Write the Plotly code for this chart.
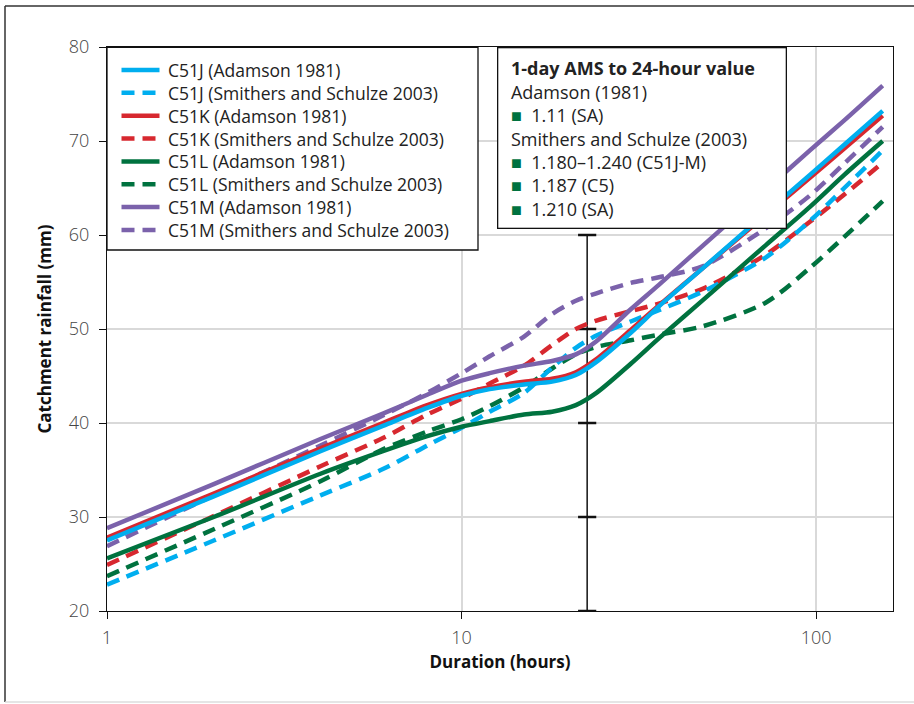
import plotly.graph_objects as go

# Durations (hours) at which each depth-duration curve is sampled
durations = [1, 2, 4, 6, 8, 10, 12, 15, 18, 21, 24, 30, 36, 48, 72, 96, 120, 154]

# Catchment rainfall depths (mm) - Adamson (1981)
c51j_adamson = [27.5, 32.2, 37.0, 39.7, 41.6, 42.9, 43.6, 44.1, 44.4, 45.1, 46.5, 49.6, 52.4, 56.5, 62.3, 66.4, 69.6, 73.2]
c51k_adamson = [27.8, 32.5, 37.3, 40.0, 41.9, 43.1, 43.8, 44.4, 44.7, 45.4, 46.8, 49.9, 52.5, 56.5, 62.1, 66.1, 69.2, 72.7]
c51l_adamson = [25.6, 30.0, 34.6, 37.0, 38.6, 39.6, 40.2, 40.9, 41.2, 41.9, 43.2, 46.3, 49.0, 53.1, 58.9, 63.0, 66.4, 70.0]
c51m_adamson = [28.8, 33.5, 38.3, 41.0, 43.0, 44.5, 45.3, 46.1, 46.6, 47.3, 48.7, 52.1, 54.7, 58.9, 64.8, 69.0, 72.2, 75.9]

# Catchment rainfall depths (mm) - Smithers and Schulze (2003)
c51j_smithers = [22.8, 27.5, 32.3, 35.1, 37.6, 39.5, 41.2, 43.2, 45.9, 48.0, 49.3, 50.8, 52.0, 54.0, 57.6, 61.5, 65.0, 69.0]
c51k_smithers = [24.9, 30.1, 35.4, 38.4, 40.9, 42.6, 44.2, 46.1, 48.3, 50.0, 50.9, 51.9, 52.7, 54.3, 57.9, 61.4, 64.3, 67.7]
c51l_smithers = [23.7, 28.7, 33.8, 37.2, 39.1, 40.4, 41.8, 43.8, 45.8, 47.3, 48.1, 48.8, 49.4, 50.3, 52.8, 56.5, 59.8, 63.6]
c51m_smithers = [26.9, 32.3, 37.6, 40.8, 43.2, 45.3, 47.1, 49.2, 51.6, 53.0, 53.8, 54.9, 55.5, 56.7, 60.7, 64.2, 67.6, 71.5]

# One-day reference line with its gridded caps
one_day_marker_duration = 22.6
one_day_marker_depths = [20, 30, 40, 50, 60]

x_ticks = [1, 10, 100]
y_ticks = [20, 30, 40, 50, 60, 70, 80]

# 1-day AMS to 24-hour ratio notes
ratio_title = "1-day AMS to 24-hour value"
ratio_lines = [
    ("Adamson (1981)", False),
    ("1.11 (SA)", True),
    ("Smithers and Schulze (2003)", False),
    ("1.180–1.240 (C51J-M)", True),
    ("1.187 (C5)", True),
    ("1.210 (SA)", True),
]

CYAN = "#00AEEF"
RED = "#D7282F"
GREEN = "#00723F"
PURPLE = "#7B62AB"
FONT = "Open Sans"
DASH = "13px,8px"
TEXT = "#222222"

# (name, values, colour, dashed) in key order
series = [
    ("C51J (Adamson 1981)", c51j_adamson, CYAN, False),
    ("C51J (Smithers and Schulze 2003)", c51j_smithers, CYAN, True),
    ("C51K (Adamson 1981)", c51k_adamson, RED, False),
    ("C51K (Smithers and Schulze 2003)", c51k_smithers, RED, True),
    ("C51L (Adamson 1981)", c51l_adamson, GREEN, False),
    ("C51L (Smithers and Schulze 2003)", c51l_smithers, GREEN, True),
    ("C51M (Adamson 1981)", c51m_adamson, PURPLE, False),
    ("C51M (Smithers and Schulze 2003)", c51m_smithers, PURPLE, True),
]
# drawing order: dashed curves below, cyan over red, purple on top
draw_order = [7, 5, 3, 1, 4, 2, 0, 6]

# plot-area geometry in pixels, used to place the key and frame
L, R, T, B = 107, 21, 47, 93
W, H = 914, 704
PW, PH = W - L - R, H - T - B


def px(x):
    return (x - L) / PW


def py(y):
    return (H - B - y) / PH


fig = go.Figure()

fig.add_trace(go.Scatter(
    x=[one_day_marker_duration] * len(one_day_marker_depths),
    y=one_day_marker_depths,
    mode="lines+markers",
    line=dict(color="#111111", width=1.5),
    marker=dict(symbol="line-ew", size=13, line=dict(color="#111111", width=2.5)),
    showlegend=False,
    hoverinfo="skip",
))

for i in draw_order:
    name, values, colour, dashed = series[i]
    fig.add_trace(go.Scatter(
        x=durations,
        y=values,
        name=name,
        mode="lines",
        line=dict(color=colour, width=4.5, dash=DASH if dashed else "solid",
                  shape="spline", smoothing=0.8),
        showlegend=False,
    ))

# Series key: framed box in the top-left corner of the plot
fig.add_shape(type="rect", xref="paper", yref="paper", layer="above",
              x0=px(107), x1=px(478), y0=py(250), y1=py(47.3),
              line=dict(color="#111111", width=1.3), fillcolor="white")
row_y0, row_step = 70.0, 22.85
for k, (name, values, colour, dashed) in enumerate(series):
    yk = py(row_y0 + k * row_step)
    fig.add_shape(type="line", xref="paper", yref="paper", layer="above",
                  x0=px(121.5), x1=px(159.5), y0=yk, y1=yk,
                  line=dict(color=colour, width=4.5, dash=DASH if dashed else "solid"))
    fig.add_annotation(text=name, xref="paper", yref="paper",
                       x=px(166), y=yk, xanchor="left", yanchor="middle",
                       showarrow=False,
                       font=dict(family=FONT, size=17.5, color=TEXT))

# Ratio notes box
square = f"<span style='color:{GREEN}'>■</span>"
ratio_rows = [f"\u00a0<b>{ratio_title}</b>"]
for text, bullet in ratio_lines:
    if bullet:
        ratio_rows.append(f"\u00a0{square}\u00a0\u00a0{text}")
    else:
        ratio_rows.append(f"\u00a0{text}")

fig.add_annotation(
    text="<br>".join(ratio_rows),
    xref="paper", yref="paper",
    x=px(497), y=1.0,
    xanchor="left", yanchor="top",
    showarrow=False,
    align="left", valign="top",
    width=271, height=163,
    borderpad=8,
    bordercolor="#111111", borderwidth=1.3,
    bgcolor="white",
    font=dict(family=FONT, size=18, color=TEXT),
)

# Outer frame of the figure
frame = dict(xref="paper", yref="paper", layer="above")
fig.add_shape(type="line", x0=px(5), x1=px(920), y0=py(6), y1=py(6),
              line=dict(color="#333333", width=1.5), **frame)
fig.add_shape(type="line", x0=px(5), x1=px(5), y0=py(6), y1=py(702),
              line=dict(color="#333333", width=1.5), **frame)
fig.add_shape(type="line", x0=px(5), x1=px(920), y0=py(702), y1=py(702),
              line=dict(color="#dddddd", width=1.5), **frame)

fig.update_layout(
    width=W, height=H,
    margin=dict(l=L, r=R, t=T, b=B),
    paper_bgcolor="white",
    plot_bgcolor="white",
    font=dict(family=FONT, size=18, color="#333333"),
    showlegend=False,
    xaxis=dict(
        type="log",
        range=[0, 2.2166],
        tickvals=x_ticks,
        ticktext=[str(v) for v in x_ticks],
        ticks="outside", ticklen=7, tickwidth=1.3, tickcolor="#111111",
        showline=True, linecolor="#111111", linewidth=1.3, mirror=True,
        showgrid=True, gridcolor="#d9d9d9", gridwidth=1.5,
        zeroline=False,
        tickfont=dict(family=FONT, size=18, color="#444444", weight=300),
        ticklabelstandoff=3,
        title=dict(text="<b>Duration (hours)</b>", standoff=8,
                   font=dict(family=FONT, size=17, color="#111111")),
    ),
    yaxis=dict(
        range=[20, 80],
        tickvals=y_ticks,
        ticks="outside", ticklen=7, tickwidth=1.3, tickcolor="#111111",
        showline=True, linecolor="#111111", linewidth=1.3, mirror=True,
        showgrid=True, gridcolor="#d9d9d9", gridwidth=1.5,
        zeroline=False,
        tickfont=dict(family=FONT, size=18, color="#444444", weight=300),
        ticklabelstandoff=6,
        title=dict(text="<b>Catchment rainfall (mm)</b>", standoff=12,
                   font=dict(family=FONT, size=17, color="#111111")),
    ),
)

fig.write_html("out.html")
